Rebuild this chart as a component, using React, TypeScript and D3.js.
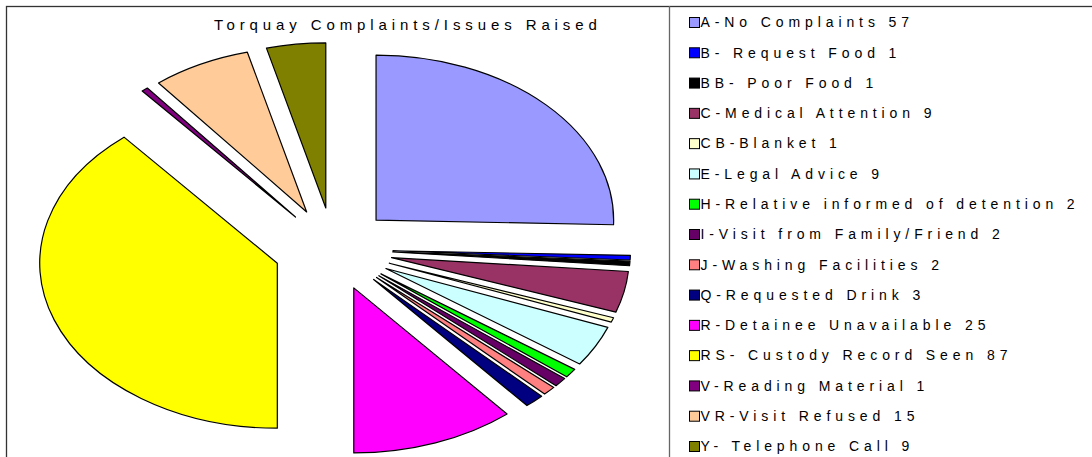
import React, { useEffect, useRef } from 'react'
import * as d3 from 'd3'

// chart data
const title = 'Torquay Complaints/Issues Raised'
const categories = [
    'A-No Complaints',
    'B- Request Food',
    'BB- Poor Food',
    'C-Medical Attention',
    'CB-Blanket',
    'E-Legal Advice',
    'H-Relative informed of detention',
    'I-Visit from Family/Friend',
    'J-Washing Facilities',
    'Q-Requested Drink',
    'R-Detainee Unavailable',
    'RS- Custody Record Seen',
    'V-Reading Material',
    'VR-Visit Refused',
    'Y- Telephone Call',
]
const counts = [57, 1, 1, 9, 1, 9, 2, 2, 2, 3, 25, 87, 1, 15, 9]
const colors = [
    '#9999FF', '#0000FF', '#000000', '#993366', '#FFFFCC',
    '#CCFFFF', '#00FF00', '#660066', '#FF8080', '#000080',
    '#FF00FF', '#FFFF00', '#800080', '#FFCC99', '#808000',
]

const svgWidth = 1092
const svgHeight = 457
const font = 'Arial, "Liberation Sans", sans-serif'

// pie is a circle stretched sideways, every slice pulled out the same amount
const center = { x: 333.3, y: 249 }
const radius = 165
const stretchX = 1.44
const explode = 41.4

function App() {
    const ref = useRef<SVGSVGElement>(null)

    useEffect(() => {
        const svg = d3.select(ref.current)
        svg.selectAll('*').remove()

        // frame + legend divider
        svg.append('rect')
            .attr('x', 6.5).attr('y', 6.5)
            .attr('width', 1200).attr('height', 600)
            .attr('fill', 'white')
            .attr('stroke', '#333').attr('stroke-width', 1.3)
        svg.append('line')
            .attr('x1', 669.5).attr('x2', 669.5)
            .attr('y1', 6).attr('y2', svgHeight)
            .attr('stroke', '#666').attr('stroke-width', 1.3)

        svg.append('text')
            .attr('x', 214).attr('y', 30)
            .attr('font-family', font).attr('font-size', 15)
            .attr('letter-spacing', 4.9)
            .text(title)

        const pie = d3.pie<number>().sort(null).value(d => d)
        const arc = d3.arc<d3.PieArcDatum<number>>().innerRadius(0).outerRadius(radius)

        const g = svg.append('g')
            .attr('transform', `translate(${center.x}, ${center.y}) scale(${stretchX}, 1)`)

        g.selectAll('path')
            .data(pie(counts))
            .enter()
            .append('path')
            .attr('transform', d => {
                const mid = (d.startAngle + d.endAngle) / 2
                return `translate(${explode * Math.sin(mid)}, ${-explode * Math.cos(mid)})`
            })
            .attr('d', arc)
            .attr('fill', (d, i) => colors[i])
            .attr('stroke', 'black')
            .attr('stroke-width', 1.2)
            .attr('stroke-linejoin', 'round')
            .attr('vector-effect', 'non-scaling-stroke')

        // legend
        const y = d3.scalePoint<string>().domain(categories).range([22, 446])
        const rows = svg.append('g')
            .selectAll('g')
            .data(categories)
            .enter()
            .append('g')
            .attr('transform', d => `translate(689, ${y(d)})`)

        rows.append('rect')
            .attr('x', 0.5).attr('y', -4.5)
            .attr('width', 10).attr('height', 10)
            .attr('fill', (d, i) => colors[i])
            .attr('stroke', 'black').attr('stroke-width', 1)

        rows.append('text')
            .attr('x', 11.5).attr('y', 5.3)
            .attr('font-family', font).attr('font-size', 14)
            .attr('letter-spacing', 4.9)
            .text((d, i) => `${d} ${counts[i]}`)
    }, [])

    return (
        <svg
            ref={ref}
            width={svgWidth}
            height={svgHeight}
            style={{ position: 'absolute', left: 0, top: 0 }}
        />
    )
}

export default App
